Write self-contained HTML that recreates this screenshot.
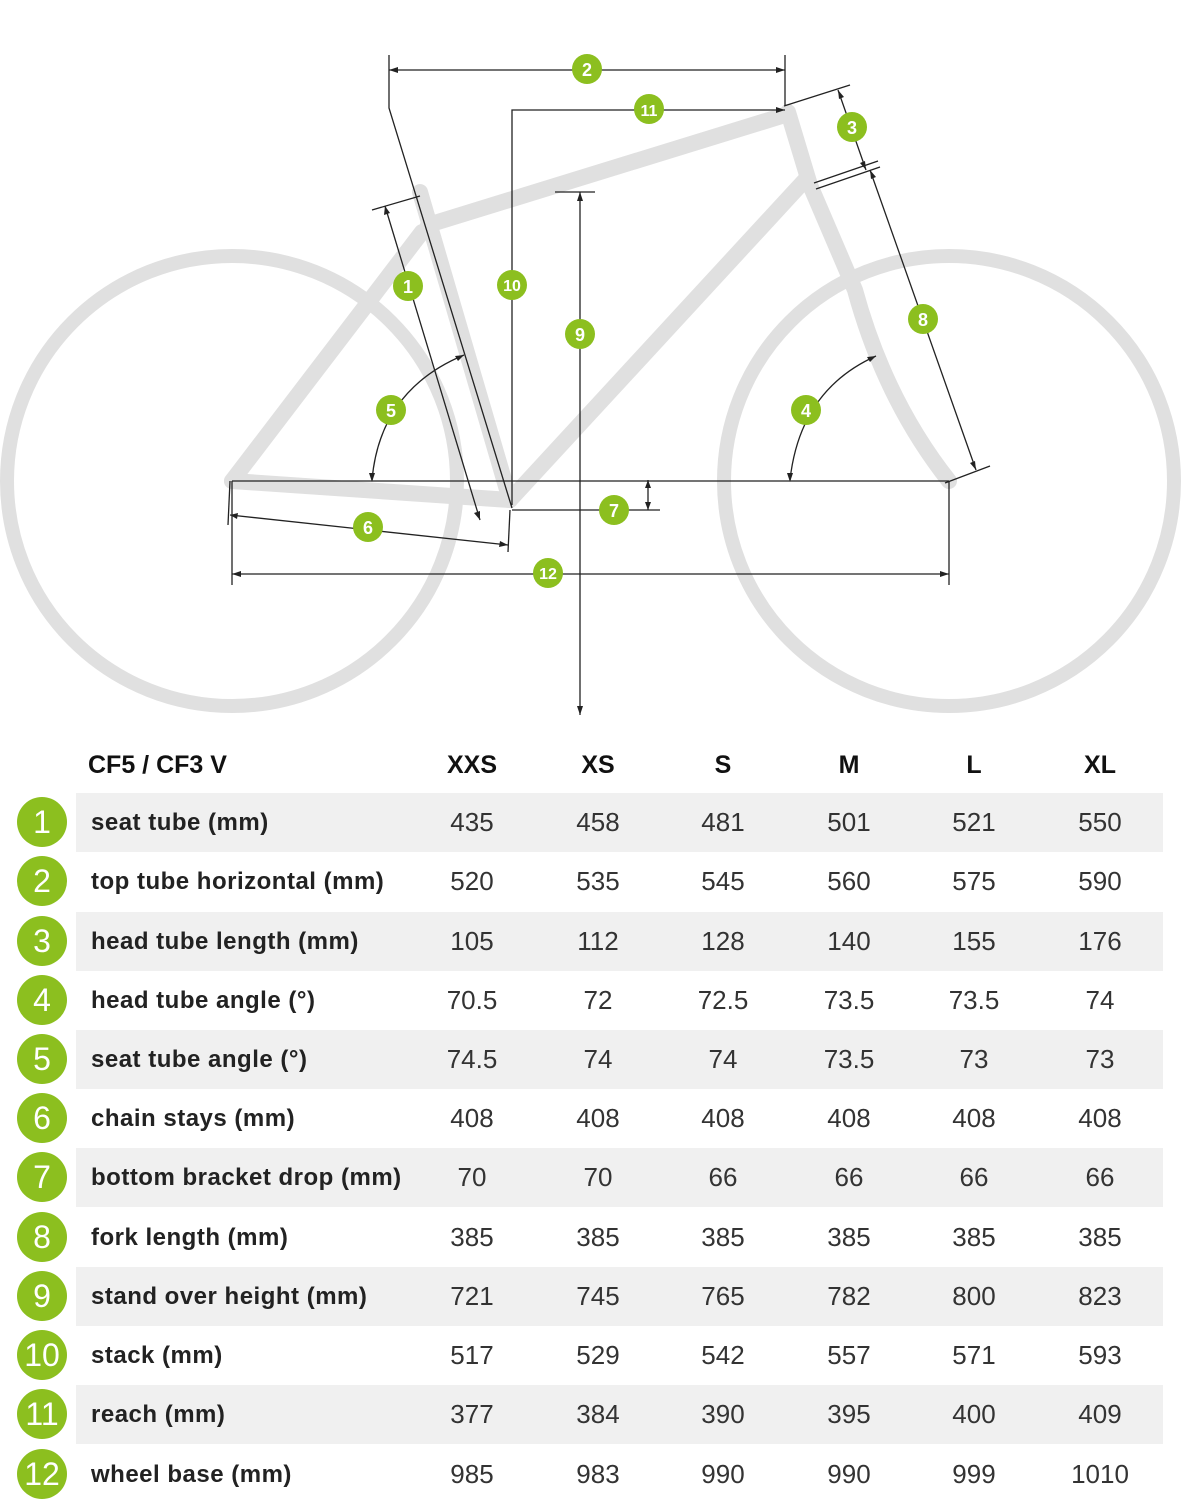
<!DOCTYPE html>
<html><head><meta charset="utf-8"><style>
body{margin:0;width:1182px;height:1504px;background:#fff;font-family:"Liberation Sans",sans-serif;position:relative;overflow:hidden}
svg{position:absolute;left:0;top:0}
.row{position:absolute;left:0;width:1182px;height:59px}
.band{position:absolute;left:76px;width:1087px;top:0;height:59px;background:#f0f0f0}
.c{position:absolute;left:17px;top:4px;width:50px;height:50px;border-radius:50%;background:#8cbf1f;color:#fff;font-size:32px;line-height:50px;text-align:center;font-weight:normal}
.lab{position:absolute;left:91px;top:0;line-height:59px;font-size:24px;font-weight:bold;color:#222;letter-spacing:0.5px}
.v{position:absolute;top:0;width:100px;margin-left:-50px;text-align:center;line-height:59px;font-size:26px;color:#333}
.h{position:absolute;top:745px;line-height:40px;font-size:25px;font-weight:bold;color:#111}
</style></head><body>
<svg width="1182" height="740" viewBox="0 0 1182 740">
<g fill="none" stroke="#e0e0e0" stroke-width="14" stroke-linecap="round">
<circle cx="232" cy="481" r="225"/>
<circle cx="949" cy="481" r="225"/>
</g>
<g fill="none" stroke="#e0e0e0" stroke-width="16" stroke-linecap="round" stroke-linejoin="round">
<path d="M232,481 L510,500"/>
<path d="M232,481 L422,232"/>
<path d="M420,192 L510,500"/>
<path d="M428,225 L785,115"/>
<path d="M510,500 L805,180"/>
<path d="M788,112 L810,185 L855,290 Q885,400 949,481"/>
</g>
<g fill="none" stroke="#222" stroke-width="1.3">
<path d="M389,55 L389,108 L512,508"/>
<path d="M389,70 L785,70"/><path d="M785,55 L785,105"/>
<path d="M512,505 L512,110 L785,110"/>
<path d="M784,106 L850,85"/><path d="M838,90 L866,170"/>
<path d="M814,183 L878,161"/><path d="M816,189 L880,167"/>
<path d="M870,170 L976,470"/><path d="M945,483 L990,466"/>
<path d="M232,481 L949,481"/>
<path d="M949,481 L949,585"/>
<path d="M232,481 L232,585"/>
<path d="M232,574 L949,574"/>
<path d="M580,192 L580,715"/><path d="M555,192 L595,192"/>
<path d="M372,210 L420,196"/><path d="M385,206 L480,520"/>
<path d="M230,515 L508,545"/><path d="M230,481 L228,525"/><path d="M510,510 L508,552"/>
<path d="M512,510 L660,510"/><path d="M648,480 L648,510"/>
<path d="M372,480 Q380,390 464,355"/>
<path d="M790,480 Q800,390 876,356"/>
</g>
<g fill="#222">
<path d="M389,70 l9,-3 v6z"/><path d="M785,70 l-9,-3 v6z"/>
<path d="M785,110 l-9,-3 v6z"/>
<path d="M838,90 l1,9 l5,-2z"/><path d="M866,170 l-1,-9 l-5,2z"/>
<path d="M870,170 l1,9 l5,-2z"/><path d="M976,470 l-1,-9 l-5,2z"/>
<path d="M580,192 l-3,9 h6z"/><path d="M580,715 l-3,-9 h6z"/>
<path d="M385,206 l-1,9 l6,-2z"/><path d="M480,520 l0,-9 l-6,2z"/>
<path d="M230,515 l8,-2 l-1,6z"/><path d="M508,545 l-8,-4 l-1,6z"/>
<path d="M232,574 l9,-3 v6z"/><path d="M949,574 l-9,-3 v6z"/>
<path d="M648,480 l-3,8 h6z"/><path d="M648,510 l-3,-8 h6z"/>
<path d="M372,482 l-3,-9 h6z"/><path d="M464,355 l-9,1 l3,5z"/>
<path d="M790,482 l-3,-9 h6z"/><path d="M876,356 l-9,1 l3,5z"/>
</g>
<g fill="#8cbf1f">
<circle cx="587" cy="69" r="15"/><circle cx="649" cy="109" r="15"/><circle cx="852" cy="127" r="15"/>
<circle cx="408" cy="286" r="15"/><circle cx="512" cy="285" r="15"/><circle cx="580" cy="334" r="15"/>
<circle cx="923" cy="319" r="15"/><circle cx="391" cy="410" r="15"/><circle cx="806" cy="410" r="15"/>
<circle cx="368" cy="527" r="15"/><circle cx="614" cy="510" r="15"/><circle cx="548" cy="573" r="15"/>
</g>
<g fill="#fff" font-family="Liberation Sans" font-weight="bold" font-size="18" text-anchor="middle">
<text x="587" y="76">2</text><text x="649" y="116" font-size="16">11</text><text x="852" y="134">3</text>
<text x="408" y="293">1</text><text x="512" y="291" font-size="16">10</text><text x="580" y="341">9</text>
<text x="923" y="326">8</text><text x="391" y="417">5</text><text x="806" y="417">4</text>
<text x="368" y="534">6</text><text x="614" y="517">7</text><text x="548" y="579" font-size="16">12</text>
</g>
</svg>
<div class="h" style="left:88px">CF5 / CF3 V</div>
<div class="h" style="left:422px;width:100px;text-align:center">XXS</div>
<div class="h" style="left:548px;width:100px;text-align:center">XS</div>
<div class="h" style="left:673px;width:100px;text-align:center">S</div>
<div class="h" style="left:799px;width:100px;text-align:center">M</div>
<div class="h" style="left:924px;width:100px;text-align:center">L</div>
<div class="h" style="left:1050px;width:100px;text-align:center">XL</div>

<div class="row" style="top:793px"><div class="band"></div><div class="c">1</div><div class="lab">seat tube (mm)</div><div class="v" style="left:472px">435</div><div class="v" style="left:598px">458</div><div class="v" style="left:723px">481</div><div class="v" style="left:849px">501</div><div class="v" style="left:974px">521</div><div class="v" style="left:1100px">550</div></div>
<div class="row" style="top:852px"><div class="c">2</div><div class="lab">top tube horizontal (mm)</div><div class="v" style="left:472px">520</div><div class="v" style="left:598px">535</div><div class="v" style="left:723px">545</div><div class="v" style="left:849px">560</div><div class="v" style="left:974px">575</div><div class="v" style="left:1100px">590</div></div>
<div class="row" style="top:912px"><div class="band"></div><div class="c">3</div><div class="lab">head tube length (mm)</div><div class="v" style="left:472px">105</div><div class="v" style="left:598px">112</div><div class="v" style="left:723px">128</div><div class="v" style="left:849px">140</div><div class="v" style="left:974px">155</div><div class="v" style="left:1100px">176</div></div>
<div class="row" style="top:971px"><div class="c">4</div><div class="lab">head tube angle (°)</div><div class="v" style="left:472px">70.5</div><div class="v" style="left:598px">72</div><div class="v" style="left:723px">72.5</div><div class="v" style="left:849px">73.5</div><div class="v" style="left:974px">73.5</div><div class="v" style="left:1100px">74</div></div>
<div class="row" style="top:1030px"><div class="band"></div><div class="c">5</div><div class="lab">seat tube angle (°)</div><div class="v" style="left:472px">74.5</div><div class="v" style="left:598px">74</div><div class="v" style="left:723px">74</div><div class="v" style="left:849px">73.5</div><div class="v" style="left:974px">73</div><div class="v" style="left:1100px">73</div></div>
<div class="row" style="top:1089px"><div class="c">6</div><div class="lab">chain stays (mm)</div><div class="v" style="left:472px">408</div><div class="v" style="left:598px">408</div><div class="v" style="left:723px">408</div><div class="v" style="left:849px">408</div><div class="v" style="left:974px">408</div><div class="v" style="left:1100px">408</div></div>
<div class="row" style="top:1148px"><div class="band"></div><div class="c">7</div><div class="lab">bottom bracket drop (mm)</div><div class="v" style="left:472px">70</div><div class="v" style="left:598px">70</div><div class="v" style="left:723px">66</div><div class="v" style="left:849px">66</div><div class="v" style="left:974px">66</div><div class="v" style="left:1100px">66</div></div>
<div class="row" style="top:1208px"><div class="c">8</div><div class="lab">fork length (mm)</div><div class="v" style="left:472px">385</div><div class="v" style="left:598px">385</div><div class="v" style="left:723px">385</div><div class="v" style="left:849px">385</div><div class="v" style="left:974px">385</div><div class="v" style="left:1100px">385</div></div>
<div class="row" style="top:1267px"><div class="band"></div><div class="c">9</div><div class="lab">stand over height (mm)</div><div class="v" style="left:472px">721</div><div class="v" style="left:598px">745</div><div class="v" style="left:723px">765</div><div class="v" style="left:849px">782</div><div class="v" style="left:974px">800</div><div class="v" style="left:1100px">823</div></div>
<div class="row" style="top:1326px"><div class="c">10</div><div class="lab">stack (mm)</div><div class="v" style="left:472px">517</div><div class="v" style="left:598px">529</div><div class="v" style="left:723px">542</div><div class="v" style="left:849px">557</div><div class="v" style="left:974px">571</div><div class="v" style="left:1100px">593</div></div>
<div class="row" style="top:1385px"><div class="band"></div><div class="c">11</div><div class="lab">reach (mm)</div><div class="v" style="left:472px">377</div><div class="v" style="left:598px">384</div><div class="v" style="left:723px">390</div><div class="v" style="left:849px">395</div><div class="v" style="left:974px">400</div><div class="v" style="left:1100px">409</div></div>
<div class="row" style="top:1445px"><div class="c">12</div><div class="lab">wheel base (mm)</div><div class="v" style="left:472px">985</div><div class="v" style="left:598px">983</div><div class="v" style="left:723px">990</div><div class="v" style="left:849px">990</div><div class="v" style="left:974px">999</div><div class="v" style="left:1100px">1010</div></div>
</body></html>
